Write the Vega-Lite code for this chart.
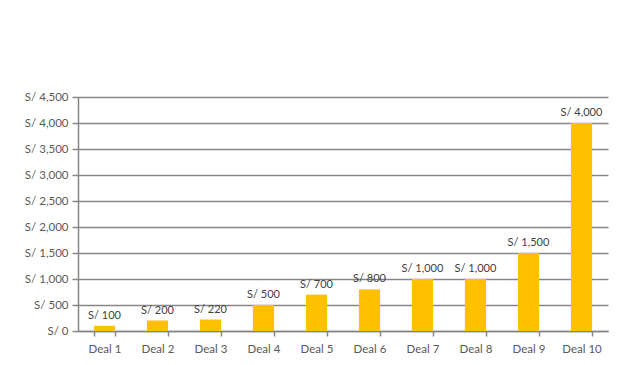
{
  "$schema": "https://vega.github.io/schema/vega-lite/v6.json",
  "width": 530,
  "height": 234,
  "autosize": {"type": "none"},
  "padding": {"left": 78, "top": 97, "right": 15, "bottom": 34},
  "background": "white",
  "config": {
    "font": "Lato",
    "view": {"stroke": null},
    "axis": {"labelFont": "Lato", "labelColor": "#595959", "labelFontSize": 11.5, "domainColor": "#868686", "tickColor": "#868686", "gridColor": "#868686"}
  },
  "data": {"values": [
    {"deal": "Deal 1", "amount": 100},
    {"deal": "Deal 2", "amount": 200},
    {"deal": "Deal 3", "amount": 220},
    {"deal": "Deal 4", "amount": 500},
    {"deal": "Deal 5", "amount": 700},
    {"deal": "Deal 6", "amount": 800},
    {"deal": "Deal 7", "amount": 1000},
    {"deal": "Deal 8", "amount": 1000},
    {"deal": "Deal 9", "amount": 1500},
    {"deal": "Deal 10", "amount": 4000}
  ]},
  "encoding": {
    "x": {"field": "deal", "type": "nominal", "sort": null,
          "scale": {"paddingInner": 0.6, "paddingOuter": 0.3},
          "axis": {"title": null, "labelAngle": 0, "labelPadding": 7, "ticks": true, "tickBand": "extent", "tickSize": 5, "tickWidth": 1.5, "domainWidth": 1.5}},
    "y": {"field": "amount", "type": "quantitative",
          "scale": {"domain": [0, 4500], "nice": false},
          "axis": {"title": null, "tickCount": 10, "labelOverlap": false, "labelFlush": false, "gridWidth": 1.5, "domainWidth": 1.5, "tickSize": 6, "tickWidth": 1.5, "labelPadding": 4,
                   "labelExpr": "'S/ ' + format(datum.value, ',')"}}
  },
  "layer": [
    {"mark": {"type": "bar", "color": "#FFC000"}},
    {"mark": {"type": "text", "dy": -10, "fontSize": 11, "color": "#404040", "font": "Lato",
              "text": {"expr": "'S/ ' + format(datum.amount, ',')"}}}
  ]
}
